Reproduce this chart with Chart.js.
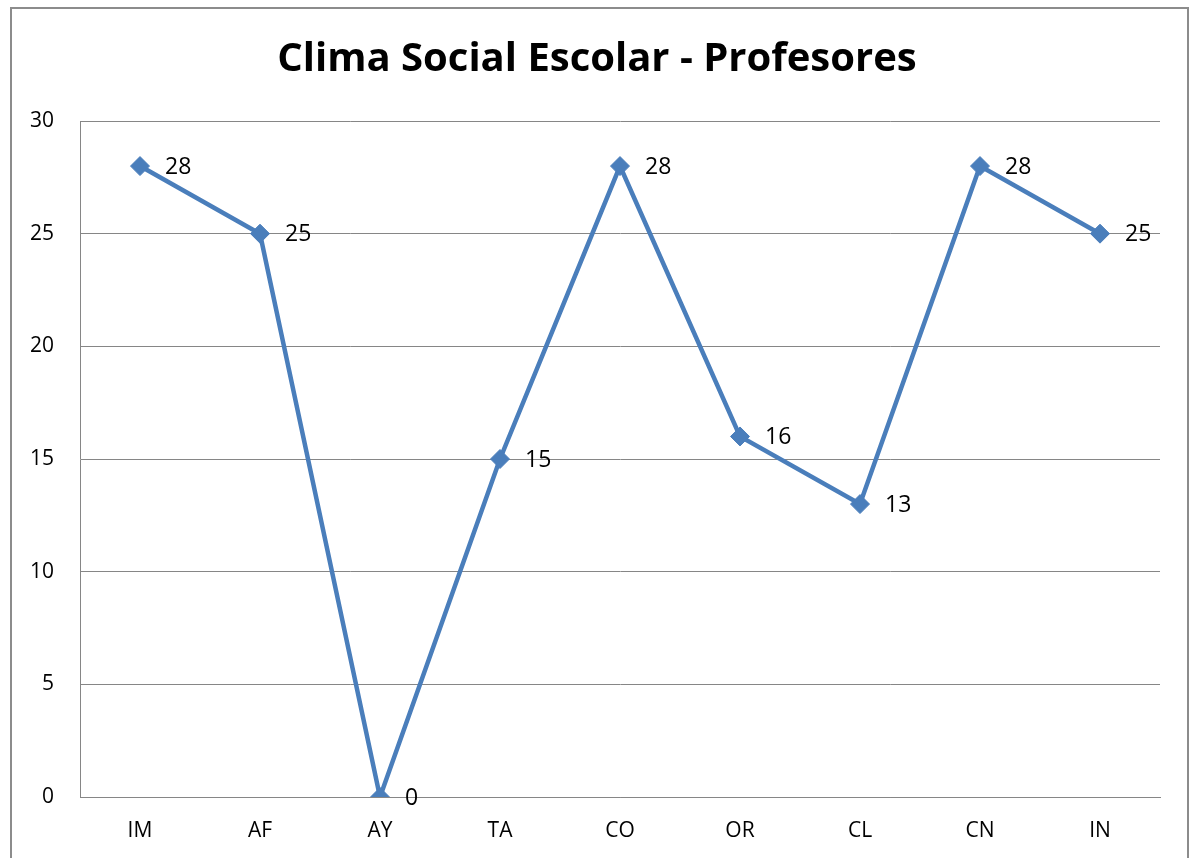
<!DOCTYPE html>
<html>
<head>
<meta charset="utf-8">
<script src="https://cdn.jsdelivr.net/npm/chart.js@4/dist/chart.umd.min.js"></script>
<style>
  html, body { margin: 0; padding: 0; background: #ffffff; overflow: hidden; }
  #frame { position: absolute; left: 10px; top: 7px; width: 1179px; height: 900px; border: 2px solid #8c8c8c; box-sizing: border-box; }
  #wrap { position: absolute; left: 0; top: 0; width: 1194px; height: 858px; }
</style>
</head>
<body>
<div id="frame"></div>
<div id="wrap"><canvas id="c" width="1194" height="858"></canvas></div>
<script>
const categories = ["IM", "AF", "AY", "TA", "CO", "OR", "CL", "CN", "IN"];
const values = [28, 25, 0, 15, 28, 16, 13, 28, 25];
const yTicks = [0, 5, 10, 15, 20, 25, 30];
const titleText = "Clima Social Escolar - Profesores";

const FONT = "'Open Sans', 'Liberation Sans', sans-serif";
const LINE = "#4a7ebb";

const dataLabels = {
  id: "dataLabels",
  afterDatasetsDraw(chart) {
    const ctx = chart.ctx;
    const meta = chart.getDatasetMeta(0);
    ctx.save();
    ctx.font = "23px " + FONT;
    ctx.fillStyle = "#000000";
    ctx.textAlign = "left";
    ctx.textBaseline = "middle";
    meta.data.forEach((pt, i) => {
      ctx.fillText(String(values[i]), pt.x + 25, pt.y + 1);
    });
    ctx.restore();
  }
};

new Chart(document.getElementById("c"), {
  type: "line",
  data: {
    labels: categories,
    datasets: [{
      data: values,
      borderColor: LINE,
      backgroundColor: LINE,
      borderWidth: 4.5,
      pointStyle: "rectRot",
      pointRadius: 9.5,
      pointBackgroundColor: LINE,
      pointBorderColor: LINE,
      pointBorderWidth: 1,
      tension: 0,
      fill: false
    }]
  },
  options: {
    responsive: false,
    animation: false,
    devicePixelRatio: 1,
    layout: { padding: 0 },
    plugins: {
      legend: { display: false },
      tooltip: { enabled: false },
      title: {
        display: true,
        text: titleText,
        color: "#000000",
        font: { family: FONT, size: 40, weight: "bold", lineHeight: 1.2 },
        padding: { top: 36, bottom: 37 }
      }
    },
    scales: {
      x: {
        offset: true,
        grid: { display: false, drawTicks: false },
        border: { display: true, color: "#868686", width: 1 },
        ticks: { color: "#000000", font: { family: FONT, size: 21 }, padding: 21 },
        afterFit(scale) { scale.height = 61; }
      },
      y: {
        min: 0,
        max: 30,
        afterBuildTicks(scale) { scale.ticks = yTicks.map(v => ({ value: v })); },
        grid: { color: "#868686", lineWidth: 1, drawTicks: false },
        border: { display: true, color: "#868686", width: 1 },
        ticks: { color: "#000000", font: { family: FONT, size: 21 }, padding: 26 },
        afterFit(scale) { scale.width = 80; }
      },
      yRight: {
        position: "right",
        display: true,
        grid: { display: false, drawTicks: false },
        border: { display: false },
        ticks: { display: false },
        afterFit(scale) { scale.width = 34; }
      }
    }
  },
  plugins: [dataLabels]
});
</script>
</body>
</html>
